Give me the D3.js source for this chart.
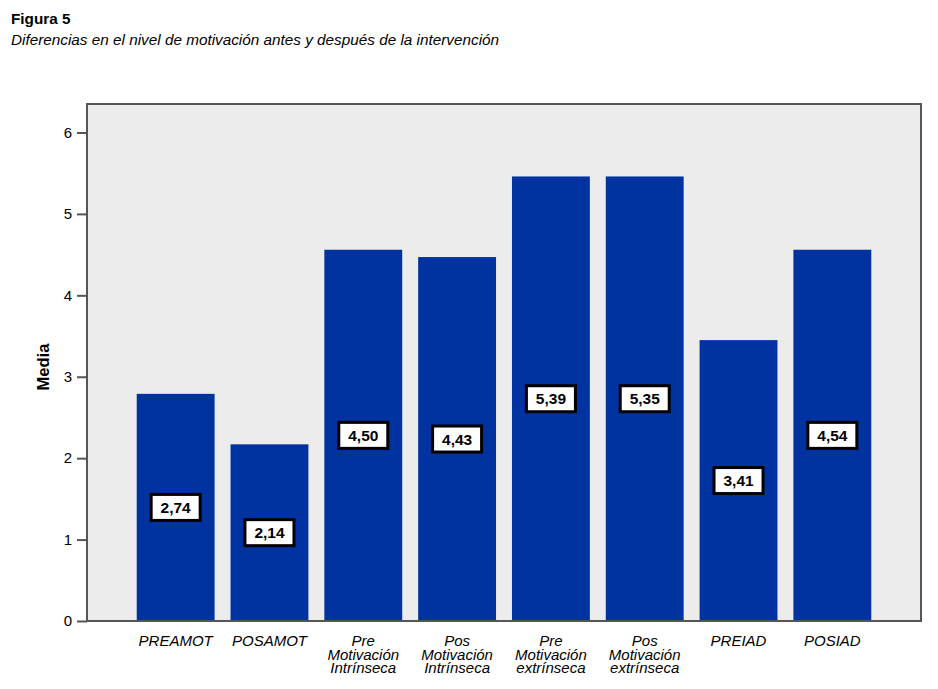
<!DOCTYPE html>
<html>
<head>
<meta charset="utf-8">
<script src="https://cdn.jsdelivr.net/npm/d3@7"></script>
<style>
  body { margin: 0; background: #fff; }
  svg { font-family: "Liberation Sans", Arial, sans-serif; }
</style>
</head>
<body>
<div id="chart"></div>
<script>
// categorias (cada una con sus lineas de texto)
const categorias = [
  ["PREAMOT"],
  ["POSAMOT"],
  ["Pre", "Motivación", "Intrínseca"],
  ["Pos", "Motivación", "Intrínseca"],
  ["Pre", "Motivación", "extrínseca"],
  ["Pos", "Motivación", "extrínseca"],
  ["PREIAD"],
  ["POSIAD"]
];
// valores impresos en las etiquetas
const medias = [2.74, 2.14, 4.50, 4.43, 5.39, 5.35, 3.41, 4.54];
// altura dibujada de las barras
const alturas = [2.79, 2.17, 4.56, 4.47, 5.46, 5.46, 3.45, 4.56];
const yTicks = [0, 1, 2, 3, 4, 5, 6];

const W = 938, H = 689;
const plot = { left: 87, right: 921, top: 104, bottom: 621 };

const svg = d3.select("#chart").append("svg")
  .attr("width", W)
  .attr("height", H);

// titulo
svg.append("text")
  .attr("x", 11).attr("y", 24)
  .style("font-size", "15.3px").style("font-weight", "bold")
  .text("Figura 5");
svg.append("text")
  .attr("x", 11).attr("y", 45)
  .style("font-size", "15.3px").style("font-style", "italic")
  .text("Diferencias en el nivel de motivación antes y después de la intervención");

const x = d3.scaleBand()
  .domain(d3.range(categorias.length))
  .range([plot.left, plot.right])
  .paddingInner(0.17)
  .paddingOuter(0.53);

const y = d3.scaleLinear()
  .domain([0, 6.35])
  .range([plot.bottom, plot.top]);

// fondo
svg.append("rect")
  .attr("x", plot.left).attr("y", plot.top)
  .attr("width", plot.right - plot.left)
  .attr("height", plot.bottom - plot.top)
  .attr("fill", "#ececec");

svg.selectAll("rect.bar")
  .data(alturas)
  .join("rect")
  .attr("class", "bar")
  .attr("x", (d, i) => x(i))
  .attr("y", d => y(d))
  .attr("width", x.bandwidth())
  .attr("height", d => y(0) - y(d))
  .attr("fill", "#0033a0");

// marco
svg.append("rect")
  .attr("x", plot.left).attr("y", plot.top)
  .attr("width", plot.right - plot.left)
  .attr("height", plot.bottom - plot.top)
  .attr("fill", "none")
  .attr("stroke", "#555")
  .attr("stroke-width", 2);

// eje y
const yAxis = svg.append("g")
  .attr("transform", `translate(${plot.left},0)`)
  .call(d3.axisLeft(y).tickValues(yTicks).tickSize(10).tickPadding(5).tickFormat(d3.format("d")));
yAxis.select(".domain").remove();
yAxis.selectAll("line").attr("stroke", "#555").attr("stroke-width", 2);
yAxis.selectAll("text")
  .style("font-size", "15px")
  .style("font-family", "'Liberation Sans', Arial, sans-serif")
  .attr("fill", "#000");

svg.append("text")
  .attr("transform", `translate(49,367) rotate(-90)`)
  .attr("text-anchor", "middle")
  .style("font-size", "16.5px").style("font-weight", "bold")
  .text("Media");

// etiquetas x
const xl = svg.selectAll("text.xl")
  .data(categorias)
  .join("text")
  .attr("class", "xl")
  .attr("text-anchor", "middle")
  .style("font-size", "15px").style("font-style", "italic")
  .attr("x", (d, i) => x(i) + x.bandwidth() / 2)
  .attr("y", 646);
xl.selectAll("tspan")
  .data(d => d)
  .join("tspan")
  .attr("x", function () { return this.parentNode.getAttribute("x"); })
  .attr("dy", (d, i) => i === 0 ? 0 : 13.7)
  .text(d => d);

// etiquetas de valor
const fmt = v => d3.format(".2f")(v).replace(".", ",");
const lab = svg.selectAll("g.val")
  .data(medias)
  .join("g")
  .attr("class", "val")
  .attr("transform", (d, i) => `translate(${x(i) + x.bandwidth() / 2},${(y(alturas[i]) + y(0)) / 2})`);
lab.append("rect")
  .attr("x", -24.5).attr("y", -13)
  .attr("width", 49).attr("height", 26)
  .attr("fill", "#fff")
  .attr("stroke", "#000")
  .attr("stroke-width", 3);
lab.append("text")
  .attr("text-anchor", "middle")
  .attr("y", 5.5)
  .style("font-size", "15.5px").style("font-weight", "bold")
  .text(d => fmt(d));
</script>
</body>
</html>
